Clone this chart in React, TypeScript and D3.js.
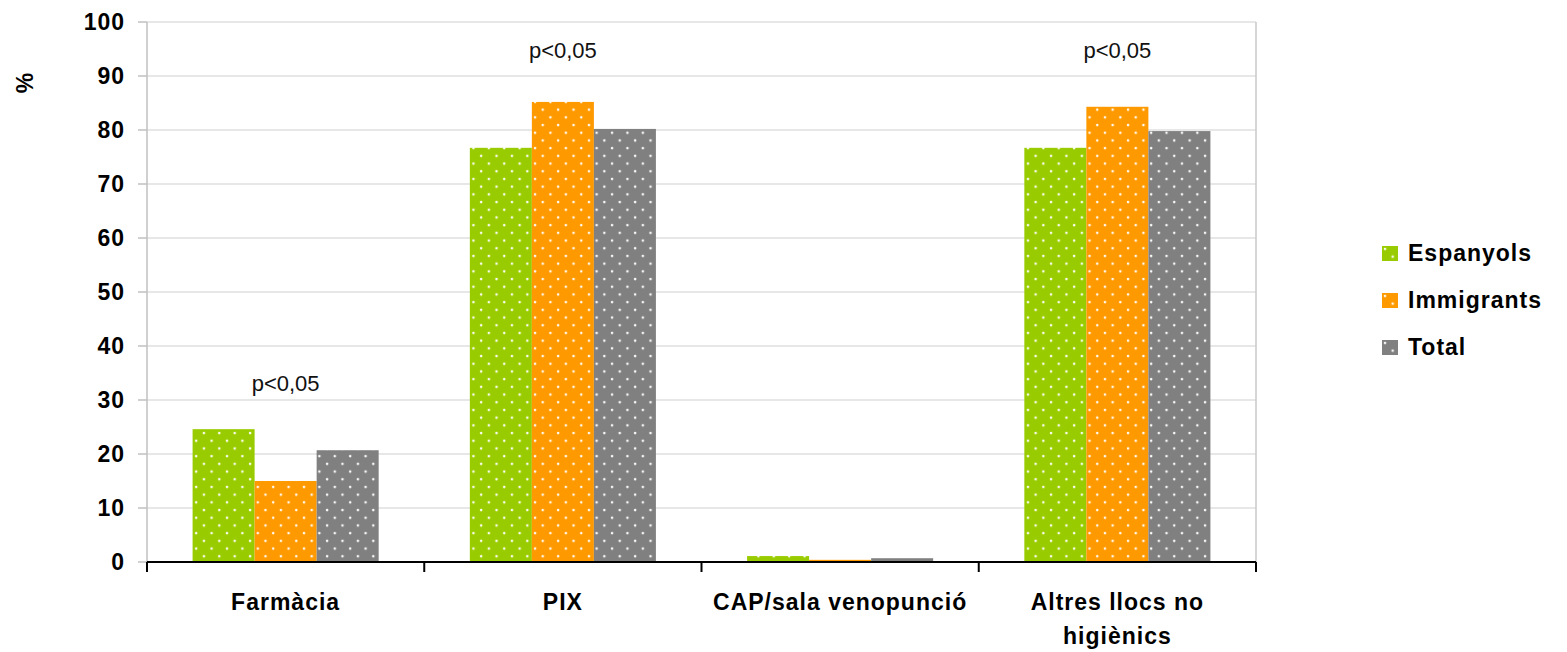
import React from "react";
import * as d3 from "d3";

const categories = ["Farmàcia", "PIX", "CAP/sala venopunció", "Altres llocs no higiènics"];
const categoryLines = [["Farmàcia"], ["PIX"], ["CAP/sala venopunció"], ["Altres llocs no", "higiènics"]];
const seriesNames = ["Espanyols", "Immigrants", "Total"];
const seriesColors = ["#99cc00", "#ff9900", "#808080"];
const espanyols = [24.6, 76.7, 1.1, 76.7];
const immigrants = [15.0, 85.2, 0.4, 84.3];
const total = [20.7, 80.2, 0.7, 79.8];
const annotations = ["p<0,05", "p<0,05", "", "p<0,05"];
const annotationLevels = [31.7, 93.3, 0, 93.3];
const yTicks = [0, 10, 20, 30, 40, 50, 60, 70, 80, 90, 100];

const seriesValues = [espanyols, immigrants, total];

const W = 1567;
const H = 652;
const margin = { left: 147, right: 311, top: 22, bottom: 90 };
const font = "'Liberation Sans', Arial, sans-serif";

export default function App() {
  const plotW = W - margin.left - margin.right;
  const plotH = H - margin.top - margin.bottom;

  const x0 = d3.scaleBand<string>().domain(categories).range([0, plotW]).padding(0);
  const x1 = d3
    .scaleBand<string>()
    .domain(seriesNames)
    .range([0, x0.bandwidth()])
    .paddingInner(0)
    .paddingOuter(0.735);
  const y = d3.scaleLinear().domain([0, 100]).range([plotH, 0]);

  const boundaries = categories.map((c) => x0(c) as number).concat([plotW]);

  return (
    <svg width={W} height={H} style={{ position: "absolute", left: 0, top: 0 }} fontFamily={font}>
      <defs>
        {seriesColors.map((c, i) => (
          <pattern key={i} id={`dots-${i}`} width={15.4} height={15.4} patternUnits="userSpaceOnUse">
            <rect width={15.4} height={15.4} fill={c} />
            <circle cx={3} cy={3} r={1.3} fill="#fff" opacity={0.95} />
            <circle cx={10.7} cy={10.7} r={1.3} fill="#fff" opacity={0.95} />
          </pattern>
        ))}
      </defs>
      <rect width={W} height={H} fill="#fff" />
      <g transform={`translate(${margin.left},${margin.top})`}>
        {/* gridlines */}
        {yTicks.map((t) => (
          <g key={t}>
            {t > 0 && <line x1={0} x2={plotW} y1={y(t)} y2={y(t)} stroke="#d0d0d0" strokeWidth={1.2} />}
            <line x1={-9} x2={0} y1={y(t)} y2={y(t)} stroke="#c0c0c0" strokeWidth={1.5} />
            <text
              x={-22}
              y={y(t)}
              dy="0.36em"
              textAnchor="end"
              fontSize={23}
              fontWeight="bold"
              letterSpacing={1}
            >
              {t}
            </text>
          </g>
        ))}
        <line x1={0} x2={0} y1={0} y2={plotH} stroke="#c0c0c0" strokeWidth={1.5} />
        <line x1={plotW} x2={plotW} y1={0} y2={plotH} stroke="#c8c8c8" strokeWidth={1.5} />

        {/* bars */}
        {categories.map((c, ci) => (
          <g key={c} transform={`translate(${x0(c)},0)`}>
            {seriesNames.map((s, si) => {
              const v = seriesValues[si][ci];
              return (
                <rect
                  key={s}
                  x={x1(s)}
                  y={y(v)}
                  width={x1.bandwidth()}
                  height={plotH - y(v)}
                  fill={`url(#dots-${si})`}
                />
              );
            })}
            {annotations[ci] && (
              <text
                x={x0.bandwidth() / 2}
                y={y(annotationLevels[ci])}
                textAnchor="middle"
                fontSize={22}
                fill="#111"
              >
                {annotations[ci]}
              </text>
            )}
            {categoryLines[ci].map((line, li) => (
              <text
                key={li}
                x={x0.bandwidth() / 2}
                y={plotH + 48 + li * 34}
                textAnchor="middle"
                fontSize={23}
                fontWeight="bold"
                letterSpacing={1}
              >
                {line}
              </text>
            ))}
          </g>
        ))}

        {/* x axis */}
        <line x1={0} x2={plotW} y1={plotH} y2={plotH} stroke="#000" strokeWidth={2} />
        {boundaries.map((b, i) => (
          <line key={i} x1={b} x2={b} y1={plotH} y2={plotH + 10} stroke="#000" strokeWidth={2} />
        ))}
      </g>

      {/* y label */}
      <text
        transform="translate(33,83) rotate(-90)"
        textAnchor="middle"
        fontSize={23}
        fontWeight="bold"
      >
        %
      </text>

      {/* legend */}
      {seriesNames.map((s, i) => (
        <g key={s} transform={`translate(1382,${246 + i * 47})`}>
          <rect width={16} height={15} fill={`url(#dots-${i})`} />
          <text x={26} y={15} fontSize={23} fontWeight="bold" letterSpacing={1}>
            {s}
          </text>
        </g>
      ))}
    </svg>
  );
}
